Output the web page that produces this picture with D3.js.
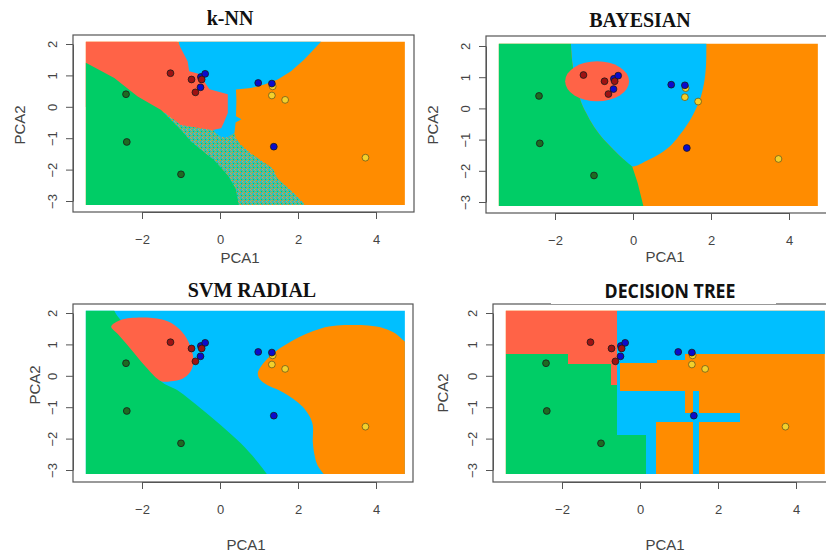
<!DOCTYPE html>
<html>
<head>
<meta charset="utf-8">
<script src="https://cdn.jsdelivr.net/npm/d3@7/dist/d3.min.js"></script>
<style>
  body { margin: 0; background: #fff; }
  svg text { font-family: "Liberation Sans", Arial, sans-serif; }
</style>
</head>
<body>
<div id="chart"></div>
<script>
// classes and colours (R named colours)
const classNames = ["class1", "class2", "class3", "class4"];
const regionColors = ["#00cd66", "#ff6347", "#00bfff", "#ff8c00"];
const pointColors = ["#1d6b22", "#9e1212", "#0b0bcc", "#f3d02c"];

// observations in PCA space (drawn in this order)
const pcaClass = [0, 0, 0, 3, 3, 3, 3, 2, 2, 2, 2, 2, 2, 1, 1, 1, 1];
const pca1 = [-2.41, -2.39, -1.00, 1.35, 1.33, 1.67, 3.73, -0.49, -0.38, -0.50, 0.98, 1.33, 1.38, -1.27, -0.73, -0.63, -0.47];
const pca2 = [0.40, -1.12, -2.15, 0.65, 0.36, 0.22, -1.62, 0.95, 1.05, 0.62, 0.76, 0.74, -1.27, 1.07, 0.87, 0.46, 0.87];

const titles = ["k-NN", "BAYESIAN", "SVM RADIAL", "DECISION TREE"];
const xTicks = [-2, 0, 2, 4];
const yTicks = [-3, -2, -1, 0, 1, 2];
const gridX = [-3.44, 4.74];
const gridY = [-3.13, 2.07];

// decision regions, painted in order (PCA1, PCA2 coordinates)
const knnRegions = [
  { cls: 3, pts: [[-4, -4], [6, -4], [6, 3], [-4, 3]] },
  { cls: "noise", pts: [[-1.6, -0.1], [-0.5, -0.6], [0.0, -0.85], [0.25, -0.95], [0.37, -0.84], [0.41, -1.0], [0.54, -1.22], [0.79, -1.48], [1.1, -1.75], [1.35, -1.96], [1.48, -2.29], [1.9, -2.75], [2.28, -3.25], [0.3, -3.25], [-2, -1]] },
  { cls: 2, pts: [[-1.1, 2.3], [2.65, 2.3], [2.59, 2.07], [2.16, 1.51], [1.82, 1.13], [1.48, 0.87], [1.14, 0.71], [0.79, 0.6], [0.41, 0.55], [0.42, 0.2], [0.41, -0.3], [0.55, -0.4], [0.4, -0.5], [0.37, -0.84], [0.2, -0.97], [0.0, -0.95], [-0.3, -0.6], [-0.8, 0.5]] },
  { cls: 1, pts: [[-3.6, 2.3], [-1.09, 2.3], [-1.09, 2.07], [-0.83, 1.45], [-0.79, 1.13], [-0.55, 1.05], [-0.4, 0.8], [-0.27, 0.56], [0.2, 0.4], [0.2, -0.2], [0.1, -0.5], [0.03, -0.68], [-0.19, -0.74], [-0.5, -0.68], [-1.0, -0.58], [-1.51, -0.1], [-3.6, 0]] },
  { cls: 0, pts: [[-3.6, 1.45], [-3.44, 1.4], [-2.71, 0.92], [-2.11, 0.33], [-1.51, -0.1], [-1.0, -0.74], [-0.74, -1.11], [-0.15, -1.7], [0.2, -2.18], [0.4, -2.6], [0.5, -3.25], [-3.6, -3.25]] }
];

const bayesRegions = [
  { cls: 3, pts: [[-4, -4], [6, -4], [6, 3], [-4, 3]] },
  { cls: 2, curve: [[-1.6, 2.4], [-1.58, 1.8], [-1.54, 1.33], [-1.45, 0.8], [-1.35, 0.27], [-1.2, -0.15], [-1.0, -0.59], [-0.75, -1.0], [-0.49, -1.33], [-0.25, -1.62], [-0.02, -1.86], [0.35, -1.68], [0.71, -1.44], [1.0, -1.15], [1.23, -0.8], [1.45, -0.4], [1.6, -0.05], [1.72, 0.3], [1.82, 0.8], [1.87, 1.33], [1.88, 1.8], [1.88, 2.4]], tail: [] },
  { cls: 0, curve: [[-1.6, 2.4], [-1.58, 1.8], [-1.54, 1.33], [-1.45, 0.8], [-1.35, 0.27], [-1.2, -0.15], [-1.0, -0.59], [-0.75, -1.0], [-0.49, -1.33], [-0.25, -1.62], [-0.02, -1.86]], tail: [[0.12, -2.39], [0.3, -3.3], [-4, -3.3], [-4, 2.4]] },
  { cls: 1, ellipse: [-0.92, 0.87, 0.82, 0.64] }
];

const svmRegions = [
  { cls: 2, pts: [[-4, -4], [6, -4], [6, 3], [-4, 3]] },
  { cls: 0, curve: [[-2.72, 2.4], [-2.71, 2.08], [-2.4, 1.55], [-2.05, 0.9], [-1.75, 0.35], [-1.51, -0.17], [-1.09, -0.46], [-0.49, -1.04], [0.03, -1.58], [0.54, -2.16], [0.97, -2.75], [1.22, -3.16], [1.3, -3.3]], tail: [[-4, -3.3], [-4, 2.4]] },
  { cls: 3, curve: [[4.95, 0.95], [4.74, 1.09], [4.5, 1.35], [4.21, 1.51], [3.8, 1.6], [3.44, 1.62], [3.0, 1.6], [2.59, 1.51], [2.2, 1.33], [1.82, 1.09], [1.45, 0.8], [1.22, 0.55], [1.05, 0.3], [0.97, 0.1], [1.01, -0.09], [1.22, -0.3], [1.5, -0.45], [1.74, -0.62], [2.0, -0.85], [2.16, -1.04], [2.3, -1.3], [2.38, -1.58], [2.38, -2.11], [2.42, -2.5], [2.5, -2.85], [2.68, -3.16], [2.78, -3.3]], tail: [[5.2, -3.3], [5.2, 0.95]] },
  { cls: 1, closed: [[-2.79, 1.57], [-2.54, 1.78], [-2.03, 1.86], [-1.51, 1.8], [-1.17, 1.62], [-0.91, 1.3], [-0.74, 0.87], [-0.68, 0.45], [-0.76, 0.13], [-0.96, -0.09], [-1.26, -0.17], [-1.51, -0.17], [-1.9, 0.28], [-2.3, 0.87], [-2.62, 1.33]] }
];

// rectangles: [x0, x1, y0, y1]
const treeRegions = [
  { cls: 3, rect: [-4, 6, -4, 3] },
  { cls: 2, rect: [-0.58, 6, 0.69, 2.5] },
  { cls: 2, rect: [-0.58, 0.43, 0.41, 0.69] },
  { cls: 2, rect: [0.43, 1.16, 0.5, 0.69] },
  { cls: 2, rect: [-0.58, -0.51, -0.48, 0.41] },
  { cls: 2, rect: [-0.58, 1.16, -1.47, -0.48] },
  { cls: 2, rect: [-0.58, 0.15, -1.9, -1.47] },
  { cls: 2, rect: [0.15, 0.41, -3.5, -1.47] },
  { cls: 2, rect: [1.35, 1.52, -3.5, -0.48] },
  { cls: 2, rect: [1.16, 2.57, -1.47, -1.2] },
  { cls: 1, rect: [-4, -0.58, 0.69, 2.5] },
  { cls: 1, rect: [-1.84, -0.58, 0.39, 0.69] },
  { cls: 1, rect: [-0.74, -0.58, -0.3, 0.39] },
  { cls: 0, rect: [-4, -1.84, -3.5, 0.69] },
  { cls: 0, rect: [-1.84, -0.74, -3.5, 0.39] },
  { cls: 0, rect: [-0.74, -0.58, -3.5, -0.3] },
  { cls: 0, rect: [-0.58, 0.15, -3.5, -1.9] }
];

const allRegions = [knnRegions, bayesRegions, svmRegions, treeRegions];

// pixel layout of the four panels
const panels = [
  { xr: [142, 376], yr: [201, 44], box: [73, 35, 414, 212], title: [230, 25], xlab: [240, 263], ylab: [20, 125], serif: true },
  { xr: [555, 789], yr: [202, 46], box: [486, 36, 831, 213], title: [640, 27], xlab: [665, 262], ylab: [433, 125], serif: true },
  { xr: [142, 376], yr: [470, 313], box: [73, 304, 413, 482], title: [252, 297], xlab: [246, 550], ylab: [35, 385], serif: true },
  { xr: [562, 796], yr: [470, 313], box: [493, 304, 838, 482], title: [670, 298], xlab: [665, 550], ylab: [443, 393], serif: false }
];

const W = 826, H = 555;
const svg = d3.select("#chart").append("svg")
  .attr("width", W).attr("height", H);

const defs = svg.append("defs");
// speckled texture of the k-NN tie zone
const pat = defs.append("pattern").attr("id", "speckle")
  .attr("patternUnits", "userSpaceOnUse").attr("width", 4).attr("height", 4);
pat.append("rect").attr("width", 4).attr("height", 4).attr("fill", "#3fbfa6");
[[0, 0, "#ff8c00"], [2, 1, "#e8a040"], [1, 3, "#00cd66"], [3, 2, "#d99a4a"], [1, 1, "#00bfff"], [3, 0, "#6fc08a"]]
  .forEach(s => pat.append("rect").attr("x", s[0]).attr("y", s[1]).attr("width", 1).attr("height", 1).attr("fill", s[2]));

function fillOf(c) { return c === "noise" ? "url(#speckle)" : regionColors[c]; }

panels.forEach((p, i) => {
  const x = d3.scaleLinear().domain([-2, 4]).range(p.xr);
  const y = d3.scaleLinear().domain([-3, 2]).range(p.yr);
  const g = svg.append("g");

  // clip to the prediction grid
  defs.append("clipPath").attr("id", "clip" + i)
    .append("rect")
    .attr("x", x(gridX[0])).attr("y", y(gridY[1]))
    .attr("width", x(gridX[1]) - x(gridX[0]))
    .attr("height", y(gridY[0]) - y(gridY[1]));

  const regionG = g.append("g").attr("clip-path", `url(#clip${i})`);
  const lin = d3.line().x(d => x(d[0])).y(d => y(d[1]));
  const smooth = d3.line().x(d => x(d[0])).y(d => y(d[1])).curve(d3.curveCatmullRom.alpha(0.5));
  const smoothClosed = d3.line().x(d => x(d[0])).y(d => y(d[1])).curve(d3.curveCatmullRomClosed.alpha(0.5));

  allRegions[i].forEach(r => {
    if (r.ellipse) {
      regionG.append("ellipse")
        .attr("cx", x(r.ellipse[0])).attr("cy", y(r.ellipse[1]))
        .attr("rx", x(r.ellipse[2]) - x(0)).attr("ry", y(0) - y(r.ellipse[3]))
        .attr("fill", fillOf(r.cls));
      return;
    }
    let d;
    if (r.rect) {
      const [x0, x1, y0, y1] = r.rect;
      d = lin([[x0, y0], [x1, y0], [x1, y1], [x0, y1]]) + "Z";
    } else if (r.curve) {
      d = smooth(r.curve) + r.tail.map(c => "L" + x(c[0]) + "," + y(c[1])).join("") + "Z";
    } else if (r.closed) {
      d = smoothClosed(r.closed);
    } else {
      d = lin(r.pts) + "Z";
    }
    regionG.append("path").attr("d", d).attr("fill", fillOf(r.cls))
      .attr("shape-rendering", r.rect ? "crispEdges" : null);
  });

  // observations
  g.selectAll("circle.obs")
    .data(pca1.map((v, k) => ({ x: v, y: pca2[k], c: pcaClass[k] })))
    .join("circle")
    .attr("class", "obs")
    .attr("cx", d => x(d.x)).attr("cy", d => y(d.y))
    .attr("r", 3.4)
    .attr("fill", d => pointColors[d.c])
    .attr("stroke", d => d.c === 3 ? "#6b5a1a" : "#1a1a1a")
    .attr("stroke-width", 0.8);

  // plot box
  g.append("rect")
    .attr("x", p.box[0]).attr("y", p.box[1])
    .attr("width", p.box[2] - p.box[0]).attr("height", p.box[3] - p.box[1])
    .attr("fill", "none").attr("stroke", "#555").attr("stroke-width", 1.2);

  // axes
  const ax = g.append("g")
    .attr("transform", `translate(0,${p.box[3]})`)
    .call(d3.axisBottom(x).tickValues(xTicks).tickFormat(d3.format("d")).tickSize(7).tickSizeOuter(0));
  ax.selectAll("text").attr("y", 23).attr("font-size", 13).attr("fill", "#444")
    .style("font-family", "Liberation Sans, Arial, sans-serif");

  const ay = g.append("g")
    .attr("transform", `translate(${p.box[0]},0)`)
    .call(d3.axisLeft(y).tickValues(yTicks).tickFormat(d3.format("d")).tickSize(7).tickSizeOuter(0));
  ay.selectAll("text")
    .attr("transform", "rotate(-90)")
    .attr("x", 0).attr("y", -16).attr("dy", 0)
    .attr("text-anchor", "middle")
    .attr("font-size", 13).attr("fill", "#444")
    .style("font-family", "Liberation Sans, Arial, sans-serif");
  g.selectAll(".domain, .tick line").attr("stroke", "#555");

  g.append("text")
    .attr("x", p.xlab[0]).attr("y", p.xlab[1])
    .attr("text-anchor", "middle").attr("font-size", 15).attr("fill", "#444")
    .text("PCA1");
  g.append("text")
    .attr("transform", `translate(${p.ylab[0] + 5},${p.ylab[1]}) rotate(-90)`)
    .attr("text-anchor", "middle").attr("font-size", 15).attr("fill", "#444")
    .text("PCA2");

  // title
  if (p.serif) {
    g.append("text")
      .attr("x", p.title[0]).attr("y", p.title[1])
      .attr("text-anchor", "middle")
      .attr("font-size", 20).attr("font-weight", "bold")
      .style("font-family", "Liberation Serif, 'Times New Roman', serif")
      .attr("fill", "#111")
      .text(titles[i]);
  } else {
    g.append("rect")
      .attr("x", 551).attr("y", p.title[1] - 18)
      .attr("width", 225).attr("height", 24).attr("fill", "#fff");
    g.append("text")
      .attr("x", p.title[0]).attr("y", p.title[1])
      .attr("text-anchor", "middle")
      .attr("font-size", 20).attr("font-weight", "bold")
      .attr("textLength", 131).attr("lengthAdjust", "spacingAndGlyphs")
      .style("font-family", "'Liberation Sans Narrow', 'Open Sans', sans-serif")
      .attr("fill", "#111")
      .text(titles[i]);
  }
});
</script>
</body>
</html>
